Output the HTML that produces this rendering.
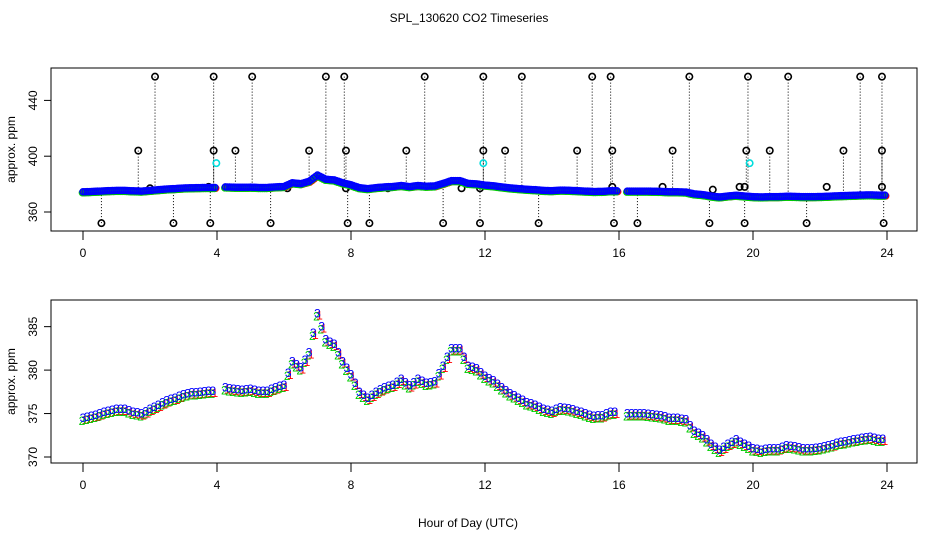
<!DOCTYPE html>
<html><head><meta charset="utf-8"><style>
html,body{margin:0;padding:0;background:#fff}
svg{display:block;font-family:"Liberation Sans",sans-serif}
</style></head><body>
<svg id="chart" width="936" height="540" viewBox="0 0 936 540" xmlns="http://www.w3.org/2000/svg">
<rect width="936" height="540" fill="#fff"/>
<text x="469" y="22" font-size="12" text-anchor="middle">SPL_130620  CO2 Timeseries</text>
<text x="468" y="527" font-size="12" text-anchor="middle">Hour of Day (UTC)</text>
<g id="top"></g>
<g id="bot"></g>
</svg>
<script>
const hours = [0,0.25,0.5,0.75,1,1.25,1.5,1.75,2,2.25,2.5,2.75,3,3.25,3.5,3.75,4,4.25,4.5,4.75,5,5.25,5.5,5.75,6,6.25,6.5,6.75,7,7.25,7.5,7.75,8,8.25,8.5,8.75,9,9.25,9.5,9.75,10,10.25,10.5,10.75,11,11.25,11.5,11.75,12,12.25,12.5,12.75,13,13.25,13.5,13.75,14,14.25,14.5,14.75,15,15.25,15.5,15.75,16,16.25,16.5,16.75,17,17.25,17.5,17.75,18,18.25,18.5,18.75,19,19.25,19.5,19.75,20,20.25,20.5,20.75,21,21.25,21.5,21.75,22,22.25,22.5,22.75,23,23.25,23.5,23.75];
const co2 = [374.5,374.7,375.0,375.3,375.5,375.5,375.2,375.0,375.5,376.0,376.5,376.8,377.2,377.4,377.5,377.6,null,378.0,377.8,377.7,377.8,377.6,377.6,378.0,378.3,381.0,380.3,382.0,386.5,383.5,383.0,381.0,379.5,377.5,376.8,377.5,378.0,378.3,379.0,378.2,379.0,378.5,378.7,380.5,382.5,382.5,380.5,380.2,379.3,378.8,378.0,377.3,376.8,376.3,376.0,375.5,375.3,375.7,375.6,375.3,375.0,374.7,374.8,375.2,null,375.0,375.0,375.0,374.9,374.8,374.5,374.5,374.3,373.0,372.5,371.5,370.8,371.5,372.0,371.5,371.0,370.8,371.0,371.0,371.3,371.2,371.0,371.0,371.1,371.3,371.6,371.8,372.0,372.2,372.3,372.1];
const outHighHours = [2.15,3.9,5.05,7.25,7.8,10.2,11.95,13.1,15.2,15.75,18.1,19.85,21.05,23.2,23.85];
const outMidHours = [1.65,3.9,4.55,6.75,7.85,9.65,11.95,12.6,14.75,15.8,17.6,19.8,20.5,22.7,23.85];
const outLowHours = [0.55,2.7,3.8,5.6,7.9,8.55,10.75,11.85,13.6,15.85,16.55,18.7,19.75,21.6,23.9];
const outHighVal = 457, outMidVal = 404, outLowVal = 352;
const cyanHours = [3.98,11.95,19.9];
const cyanVal = 395;
const blackNearHours = [2.0,3.75,6.1,7.85,9.1,11.3,11.85,15.8,17.3,18.8,19.6,19.75,22.2,23.85];
const blackNearVals = [377,378,377,377,377,377,377,378,378,376,378,378,378,378];
const xTicks = [0,4,8,12,16,20,24];
const topYTicks = [360,400,440];
const botYTicks = [370,375,380,385];

const NS="http://www.w3.org/2000/svg";
function mk(tag,attrs,parent){const e=document.createElementNS(NS,tag);for(const k in attrs)e.setAttribute(k,attrs[k]);parent.appendChild(e);return e;}
const xs = h => 83 + h*33.5;
const yTop = v => 212 - (v-360)*1.395;
const yBot = v => 457 - (v-370)*8.69;

function frame(g, top, bottom, yTicks, ys, name){
  let r=mk('rect',{x:51,y:top,width:866,height:bottom-top,fill:'none',stroke:'#000','stroke-width':1},g);
  
  
  let xl=mk('line',{x1:xs(0),x2:xs(24),y1:bottom,y2:bottom,stroke:'#000'},g);
  
  
  xTicks.forEach(t=>{
    let l=mk('line',{x1:xs(t),x2:xs(t),y1:bottom,y2:bottom+9,stroke:'#000'},g);
    
    
    let tx=mk('text',{x:xs(t),y:bottom+26,'font-size':12,'text-anchor':'middle'},g);
    tx.textContent=t;
    
    
  });
  let yl=mk('line',{x1:51,x2:51,y1:ys(yTicks[0]),y2:ys(yTicks[yTicks.length-1]),stroke:'#000'},g);
  
  
  yTicks.forEach(t=>{
    let l=mk('line',{x1:44,x2:51,y1:ys(t),y2:ys(t),stroke:'#000'},g);
    
    
    let tx=mk('text',{x:37,y:ys(t),'font-size':12,'text-anchor':'middle',transform:`rotate(-90 37 ${ys(t)})`},g);
    tx.textContent=t;
    
    
  });
  let yt=mk('text',{x:15,y:(top+bottom)/2,'font-size':12,'text-anchor':'middle',transform:`rotate(-90 15 ${(top+bottom)/2})`},g);
  yt.textContent='approx. ppm';
  
  
}

const gt=document.getElementById('top');
frame(gt,68,231,topYTicks,yTop,'top');
function outlier(h,v){
  const base = co2[Math.min(co2.length-1,Math.round(h/0.25))] ?? 378;
  let l=mk('line',{x1:xs(h),x2:xs(h),y1:yTop(v),y2:yTop(base),stroke:'#000','stroke-dasharray':'1,2','stroke-width':1},gt);
  
  
  let c=mk('circle',{cx:xs(h),cy:yTop(v),r:3.2,fill:'none',stroke:'#000','stroke-width':1.6},gt);
  
  
}
outHighHours.forEach(h=>outlier(h,outHighVal));
outMidHours.forEach(h=>outlier(h,outMidVal));
outLowHours.forEach(h=>outlier(h,outLowVal));
blackNearHours.forEach((h,i)=>{
  let c=mk('circle',{cx:xs(h),cy:yTop(blackNearVals[i]),r:3.2,fill:'none',stroke:'#000','stroke-width':1.6},gt);
  
  
});
// dense series in top panel: draw each colour as a full layer, blue last
const layersTop=[['#f00',0.8,0.8],['#0c0',-0.6,1.0],['#00f',0,0]];
layersTop.forEach(([col,dx,dy])=>{
  for(let i=0;i<hours.length;i++){
    if(co2[i]==null) continue;
    for(let k=0;k<4;k++){
      const h=hours[i]+k*0.0625;
      const j=Math.min(i+1,hours.length-1);
      const nv=co2[j]==null?co2[i]:co2[j];
      const v=co2[i]+(nv-co2[i])*k/4;
      let c=mk('circle',{cx:xs(h)+dx,cy:yTop(v)+dy,r:3,fill:'none',stroke:col,'stroke-width':1.5},gt);
      
      
    }
  }
});
cyanHours.forEach(h=>{
  let c=mk('circle',{cx:xs(h),cy:yTop(cyanVal),r:3.2,fill:'none',stroke:'#0dd','stroke-width':1.6},gt);
  
  
});

const gb=document.getElementById('bot');
frame(gb,300,463,botYTicks,yBot,'bottom');
const sers=[['1','#f00',2,2],['2','#0c0',-1,3],['3','#00f',0,0]];
sers.forEach(([lab,col,dx,dy])=>{
  for(let i=0;i<hours.length;i++){
    if(co2[i]==null) continue;
    for(let k=0;k<2;k++){
      const j=Math.min(i+1,hours.length-1);
      const nv=co2[j]==null?co2[i]:co2[j];
      const v=co2[i]+(nv-co2[i])*k/2;
      const h=hours[i]+k*0.125;
      let t=mk('text',{x:xs(h)+dx,y:yBot(v)+dy+4,'font-size':12,'text-anchor':'middle',fill:col},gb);
      t.textContent=lab;
      
      
    }
  }
});
</script>
</body></html>
